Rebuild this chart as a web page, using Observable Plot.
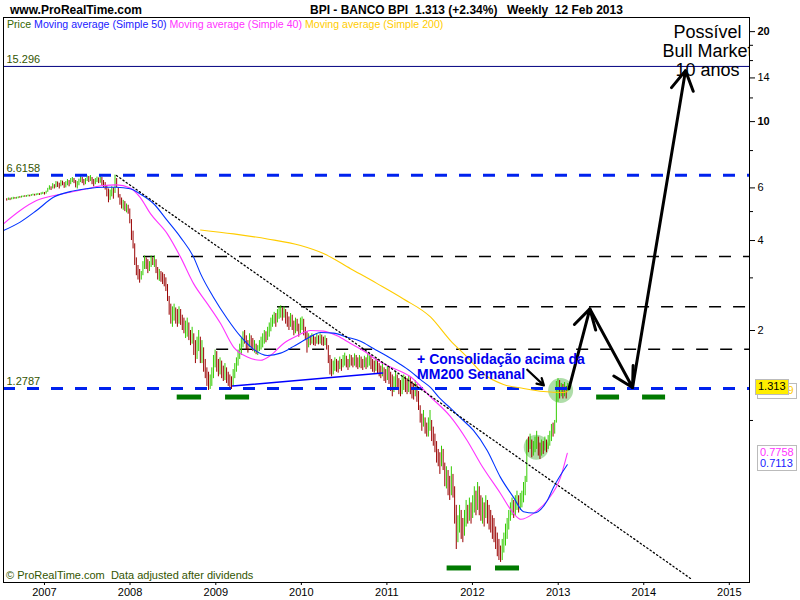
<!DOCTYPE html>
<html><head><meta charset="utf-8">
<script src="https://cdn.jsdelivr.net/npm/d3@7"></script>
<script src="https://cdn.jsdelivr.net/npm/@observablehq/plot@0.6"></script>
<style>
body{margin:0;background:#fff;font-family:"Liberation Sans",Arial,sans-serif;}
#wrap{position:relative;width:800px;height:600px;overflow:hidden}
.ov{position:absolute;white-space:pre;line-height:1}
</style></head><body><div id="wrap"></div>
<script>
// ---- weekly price bars (first week 2006-07-24) ----
const firstWeek = "2006-07-24";
const barHigh = [
5.52,5.55,5.54,5.56,5.58,5.57,5.58,5.60,5.61,5.63,
5.64,5.65,5.66,5.68,5.67,5.70,5.72,5.71,5.73,5.75,
5.74,5.78,5.80,5.79,5.85,5.98,6.10,6.05,6.20,6.15,
6.30,6.28,6.22,6.35,6.32,6.25,6.30,6.40,6.35,6.45,
6.50,6.45,6.35,6.30,6.42,6.55,6.50,6.40,6.45,6.58,
6.55,6.60,6.50,6.40,6.45,6.52,6.48,6.55,6.50,6.35,
6.25,6.10,5.95,5.90,6.05,6.00,6.62,6.45,6.00,5.70,
5.55,5.45,5.40,5.30,5.25,5.10,4.70,4.30,3.90,3.50,
3.30,3.20,3.15,3.40,3.55,3.50,3.45,3.40,3.55,3.50,
3.55,3.45,3.25,3.20,3.15,3.12,3.08,3.00,2.85,2.60,
2.45,2.40,2.45,2.38,2.35,2.40,2.35,2.25,2.20,2.15,
2.20,2.12,2.00,2.05,1.95,1.85,1.90,2.00,1.90,1.85,
1.75,1.60,1.50,1.45,1.42,1.50,1.65,1.72,1.70,1.60,
1.62,1.58,1.52,1.55,1.50,1.45,1.42,1.40,1.48,1.55,
1.62,1.72,1.80,1.88,1.98,2.00,1.92,1.85,1.95,1.92,
1.88,1.85,1.80,1.78,1.85,1.90,1.95,2.00,1.98,2.05,
2.12,2.20,2.25,2.30,2.28,2.35,2.40,2.42,2.38,2.40,
2.35,2.30,2.22,2.28,2.25,2.15,2.20,2.18,2.10,2.20,
2.22,2.18,2.05,1.98,1.95,1.92,1.95,1.93,1.90,1.94,
1.92,1.95,1.93,1.90,1.92,1.88,1.78,1.65,1.60,1.58,
1.62,1.60,1.58,1.63,1.60,1.65,1.68,1.64,1.60,1.66,
1.65,1.62,1.67,1.65,1.62,1.65,1.63,1.60,1.64,1.62,
1.66,1.68,1.65,1.60,1.58,1.62,1.60,1.55,1.52,1.56,
1.50,1.48,1.52,1.50,1.45,1.42,1.40,1.45,1.42,1.38,
1.36,1.40,1.42,1.40,1.38,1.41,1.39,1.35,1.33,1.36,
1.32,1.25,1.12,1.05,1.08,1.02,0.98,1.02,1.08,1.00,
0.95,0.90,0.85,0.80,0.78,0.82,0.80,0.72,0.70,0.68,
0.65,0.70,0.66,0.60,0.52,0.48,0.52,0.50,0.47,0.50,
0.54,0.52,0.55,0.53,0.56,0.60,0.58,0.62,0.60,0.56,
0.55,0.53,0.56,0.54,0.52,0.50,0.48,0.47,0.44,0.42,
0.40,0.38,0.40,0.42,0.45,0.47,0.50,0.53,0.55,0.54,
0.56,0.58,0.56,0.57,0.58,0.62,0.65,0.86,0.88,0.90,
0.86,0.85,0.88,0.92,0.88,0.84,0.86,0.85,0.88,0.86,
0.89,0.92,0.97,0.98,1.00,1.35,1.38,1.36,1.33,1.32,
1.34,1.30,1.33];
const barLow = [
5.42,5.45,5.44,5.47,5.48,5.50,5.50,5.52,5.54,5.55,
5.57,5.58,5.58,5.60,5.60,5.62,5.64,5.63,5.65,5.66,
5.66,5.68,5.70,5.68,5.72,5.80,5.90,5.88,5.95,5.95,
6.00,6.02,5.95,6.05,6.10,5.98,6.00,6.10,6.05,6.15,
6.25,6.20,6.00,5.95,6.10,6.25,6.20,6.10,6.15,6.30,
6.25,6.30,6.15,6.05,6.15,6.25,6.20,6.22,6.10,6.00,
5.90,5.60,5.35,5.45,5.60,5.50,5.75,6.00,5.55,5.25,
5.10,5.05,5.00,4.95,4.90,4.55,4.00,3.75,3.30,3.05,
2.95,2.88,2.95,3.05,3.20,3.20,3.10,3.15,3.25,3.30,
3.25,3.10,2.95,2.92,2.90,2.85,2.80,2.70,2.50,2.25,
2.10,2.05,2.15,2.10,2.05,2.10,2.08,2.00,1.95,1.88,
1.90,1.85,1.78,1.80,1.65,1.55,1.60,1.70,1.55,1.55,
1.45,1.38,1.30,1.26,1.27,1.30,1.38,1.50,1.45,1.40,
1.42,1.38,1.35,1.36,1.33,1.30,1.28,1.27,1.30,1.38,
1.45,1.52,1.60,1.65,1.75,1.80,1.72,1.68,1.75,1.75,
1.70,1.68,1.66,1.65,1.70,1.72,1.75,1.80,1.82,1.85,
1.90,1.98,2.05,2.10,2.05,2.12,2.18,2.20,2.15,2.20,
2.10,2.05,2.00,2.05,2.00,1.92,1.95,1.98,1.90,1.95,
2.00,1.92,1.85,1.68,1.75,1.78,1.80,1.78,1.77,1.80,
1.79,1.80,1.78,1.77,1.78,1.72,1.55,1.42,1.40,1.42,
1.46,1.45,1.44,1.48,1.46,1.50,1.52,1.50,1.47,1.50,
1.52,1.50,1.52,1.50,1.48,1.50,1.49,1.47,1.50,1.48,
1.50,1.52,1.48,1.45,1.44,1.46,1.43,1.40,1.38,1.40,
1.35,1.33,1.36,1.32,1.25,1.20,1.24,1.28,1.26,1.22,
1.20,1.22,1.26,1.24,1.22,1.24,1.22,1.18,1.17,1.20,
1.15,1.08,0.98,0.92,0.95,0.90,0.88,0.88,0.92,0.85,
0.82,0.78,0.72,0.70,0.66,0.70,0.68,0.60,0.59,0.56,
0.54,0.56,0.55,0.45,0.37,0.39,0.42,0.40,0.39,0.41,
0.44,0.45,0.46,0.45,0.47,0.49,0.48,0.50,0.48,0.46,
0.45,0.44,0.47,0.45,0.43,0.42,0.40,0.39,0.37,0.35,
0.34,0.335,0.34,0.36,0.38,0.40,0.43,0.46,0.48,0.47,
0.48,0.50,0.49,0.50,0.51,0.53,0.56,0.62,0.78,0.80,
0.75,0.76,0.78,0.80,0.76,0.74,0.76,0.77,0.79,0.78,
0.80,0.82,0.85,0.88,0.90,0.98,1.15,1.18,1.20,1.18,
1.20,1.18,1.25];
const barUp = [
0,1,0,1,1,0,1,1,0,1, 1,0,1,1,0,1,1,0,1,1, 0,1,1,0,1,1,1,0,1,0,
1,0,0,1,0,0,1,1,0,1, 1,0,0,1,1,1,0,0,1,1, 0,1,0,0,1,1,0,1,0,0,
0,0,0,1,1,0,1,0,0,0, 0,1,0,1,0,0,0,0,0,0, 0,0,1,1,1,0,0,1,1,0,
1,0,0,1,0,0,0,0,0,0, 0,1,1,0,0,1,0,0,0,1, 1,0,0,1,0,0,1,1,0,1,
0,0,0,0,1,1,1,1,0,0, 1,0,0,1,0,0,0,0,1,1, 1,1,1,1,1,0,0,0,1,0,
0,1,0,1,1,1,1,1,0,1, 1,1,1,1,0,1,1,1,0,1, 0,0,0,1,0,0,1,0,0,1,
1,0,0,0,1,0,1,0,0,1, 0,1,0,0,1,0,0,0,0,1, 1,0,0,1,0,1,1,0,0,1,
0,0,1,0,0,1,0,0,1,0, 1,1,0,0,0,1,0,0,0,1, 0,0,1,0,0,0,1,1,0,0,
0,1,1,0,0,1,0,0,0,1, 0,0,0,0,1,0,0,1,1,0, 0,0,0,0,0,1,0,0,1,0,
0,1,0,0,0,1,1,0,0,1, 1,0,1,0,1,1,0,1,0,0, 1,0,1,0,0,0,0,0,0,0,
0,0,1,1,1,1,1,1,1,0, 1,1,0,1,1,1,1,1,0,1, 0,1,1,1,0,0,1,0,1,0,
1,1,1,0,1,1,1,0,1,0, 1,0,1];

// ---- moving averages (decimal year, value) ----
const ma50Year = [2006.521,2006.716,2006.907,2007.105,2007.300,2007.494,2007.689,2007.841,2008.001,2008.118,2008.273,2008.433,2008.589,2008.741,2008.822,2008.974,2009.134,2009.290,2009.442,2009.602,2009.757,2009.909,2010.069,2010.224,2010.376,2010.536,2010.692,2010.843,2011.004,2011.159,2011.276,2011.393,2011.509,2011.626,2011.743,2011.860,2012.012,2012.172,2012.327,2012.479,2012.596,2012.713,2012.873,2012.946,2013.106];
const ma50Value = [4.32,4.61,5.04,5.58,5.83,5.96,6.03,6.03,5.96,5.73,5.32,4.67,4.10,3.52,3.10,2.58,2.19,1.91,1.73,1.65,1.68,1.77,1.88,1.97,1.96,1.90,1.84,1.74,1.64,1.54,1.46,1.37,1.29,1.18,1.10,1.02,0.926,0.794,0.645,0.553,0.495,0.49,0.54,0.598,0.711];
const ma40Year = [2006.521,2006.716,2006.907,2007.105,2007.300,2007.494,2007.689,2007.841,2008.001,2008.118,2008.238,2008.433,2008.589,2008.741,2008.901,2009.056,2009.208,2009.368,2009.523,2009.640,2009.792,2009.952,2010.107,2010.259,2010.419,2010.575,2010.727,2010.887,2011.042,2011.276,2011.509,2011.743,2011.938,2012.093,2012.327,2012.479,2012.565,2012.713,2012.873,2013.028,2013.106];
const ma40Value = [4.55,5.04,5.44,5.65,5.80,5.96,6.11,6.14,6.00,5.58,4.92,4.22,3.52,2.87,2.46,2.11,1.76,1.63,1.59,1.65,1.81,1.92,2.00,1.99,1.92,1.81,1.71,1.59,1.51,1.40,1.20,1.03,0.857,0.718,0.570,0.489,0.467,0.489,0.540,0.646,0.776];
const ma200Year = [2008.822,2009.208,2009.602,2009.991,2010.259,2010.575,2010.887,2011.194,2011.509,2011.743,2011.938,2012.129,2012.362,2012.596,2012.829,2013.063,2013.106];
const ma200Value = [4.34,4.21,4.05,3.85,3.62,3.22,2.87,2.55,2.22,1.85,1.63,1.43,1.32,1.28,1.25,1.24,1.25];

// ---- levels & drawings ----
const topLevel = 15.296;
const blueLevels = [6.6158, 1.2787];
const blackLevels = [3.54, 2.40, 1.73];
const blackLevelStart = [2008.157, 2009.722, 2009.010];
const greenMarkStart = [2008.550, 2009.114, 2013.449, 2013.986, 2011.704, 2012.269];
const greenMarkEnd   = [2008.834, 2009.395, 2013.717, 2014.255, 2011.988, 2012.549];
const greenMarkLevel = [1.198, 1.198, 1.198, 1.198, 0.321, 0.321];
const circleYear = [2012.744, 2013.028];
const circleValue = [0.814, 1.26];
const trendYear = [2007.841, 2014.547];
const trendValue = [6.60, 0.296];
const neckYear = [2009.196, 2010.949];
const neckValue = [1.304, 1.441];
const arrowYear1 = [2013.125, 2013.370, 2013.869];
const arrowVal1  = [1.276, 2.363, 1.289];
const arrowYear2 = [2013.370, 2013.869, 2014.488];
const arrowVal2  = [2.363, 1.289, 14.81];
const noteArrow = {x1: 2012.639, y1: 1.478, x2: 2012.833, y2: 1.31};
const yearLabels = [2007,2008,2009,2010,2011,2012,2013,2014,2015];
const yMajor = [2,4,6,14];
const yBold = [10,20];
const yMinor = [1,3,5,8,12,16,18];
const lastPrice = 1.313, lastMA40 = 0.7758, lastMA50 = 0.7113, lastMA200 = "1.2559";

function yd(y){const yr=Math.floor(y);const a=Date.UTC(yr,0,1),b=Date.UTC(yr+1,0,1);return new Date(a+(y-yr)*(b-a));}
const t0 = new Date(firstWeek+"T00:00:00Z").getTime();
const bars = barHigh.map((h,i)=>({date:new Date(t0+i*7*864e5), high:h, low:barLow[i], up:barUp[i]===1}));
const ma50 = ma50Year.map((y,i)=>({x:yd(y), y:ma50Value[i]}));
const ma40 = ma40Year.map((y,i)=>({x:yd(y), y:ma40Value[i]}));
const ma200 = ma200Year.map((y,i)=>({x:yd(y), y:ma200Value[i]}));
const blackL = blackLevels.map((v,i)=>({y:v, x1:yd(blackLevelStart[i]), x2:yd(2015.236)}));
const greens = greenMarkLevel.map((v,i)=>({y:v, x1:yd(greenMarkStart[i]), x2:yd(greenMarkEnd[i])}));
const circles = circleYear.map((y,i)=>({x:yd(y), y:circleValue[i]}));
const arrows = arrowYear1.map((y,i)=>({x1:yd(y), y1:arrowVal1[i], x2:yd(arrowYear2[i]), y2:arrowVal2[i]}));
const xDomain=[yd(2006.521), yd(2015.236)];
const yDomain=[0.287, 22.3];
const FONT='"Liberation Sans", Arial, sans-serif';

const plot = Plot.plot({
  width:800, height:600, marginTop:17, marginBottom:18, marginLeft:3, marginRight:51,
  x:{type:"utc", domain:xDomain},
  y:{type:"log", domain:yDomain},
  style:{fontFamily:FONT, fontSize:"11px", background:"white", color:"black"},
  marks:[
    Plot.dot(circles,{x:"x",y:"y",r:12.5,fill:"#a6d9a0",fillOpacity:0.9,stroke:"none"}),
    Plot.ruleY([topLevel],{stroke:"#000080",strokeWidth:1}),
    Plot.ruleY(blackL,{y:"y",x1:"x1",x2:"x2",stroke:"black",strokeWidth:1.5,strokeDasharray:"12,12"}),
    Plot.ruleY(greens,{y:"y",x1:"x1",x2:"x2",stroke:"#007a00",strokeWidth:5}),
    Plot.ruleX(bars.filter(d=>d.up),{x:"date",y1:"low",y2:"high",stroke:"#33cc00",strokeWidth:1}),
    Plot.ruleX(bars.filter(d=>!d.up),{x:"date",y1:"low",y2:"high",stroke:"#990000",strokeWidth:1}),
    Plot.ruleY(blueLevels,{stroke:"#0022ee",strokeWidth:3,strokeDasharray:"12,12"}),
    Plot.line(ma200,{x:"x",y:"y",stroke:"#ffcc00",strokeWidth:1.1,curve:"monotone-x"}),
    Plot.line(ma40,{x:"x",y:"y",stroke:"#ff33ff",strokeWidth:1.1,curve:"monotone-x"}),
    Plot.line(ma50,{x:"x",y:"y",stroke:"#0033ff",strokeWidth:1.1,curve:"monotone-x"}),
    Plot.line(trendYear.map((y,i)=>({x:yd(y),y:trendValue[i]})),{x:"x",y:"y",stroke:"black",strokeWidth:1.3,strokeDasharray:"1.3,2.7"}),
    Plot.line(neckYear.map((y,i)=>({x:yd(y),y:neckValue[i]})),{x:"x",y:"y",stroke:"#0000ff",strokeWidth:1.5}),
    Plot.arrow(arrows,{x1:"x1",y1:"y1",x2:"x2",y2:"y2",stroke:"black",strokeWidth:3,headLength:11}),
    Plot.arrow([noteArrow],{x1:d=>yd(d.x1),y1:"y1",x2:d=>yd(d.x2),y2:"y2",stroke:"black",strokeWidth:2.2,headLength:9}),
    Plot.text([topLevel, ...blueLevels],{x:()=>xDomain[0],y:d=>d,text:d=>String(d),dx:3,dy:-7,textAnchor:"start",fill:"#335500",fontSize:11}),
    Plot.text(["+ Consolidação acima da\nMM200 Semanal"],{x:()=>yd(2011.353),y:()=>1.682,text:d=>d,textAnchor:"start",lineAnchor:"top",fontSize:14,fontWeight:"bold",lineHeight:1.07,fill:"#0000ee"}),
    Plot.text(["Possível\nBull Market\n10 anos"],{x:()=>yd(2014.745),y:()=>21.1,text:d=>d,textAnchor:"middle",lineAnchor:"top",fontSize:18,lineHeight:1.056,fill:"black",clip:true}),
    Plot.frame({stroke:"black",strokeWidth:1}),
    Plot.axisY(yMajor,{anchor:"right",tickSize:5,tickPadding:3,fontSize:11,label:null,tickFormat:d=>String(d)}),
    Plot.axisY(yBold,{anchor:"right",tickSize:5,tickPadding:3,fontSize:11,fontWeight:"bold",label:null,tickFormat:d=>String(d)}),
    Plot.axisY(yMinor,{anchor:"right",tickSize:3,label:null,tickFormat:()=>""}),
    Plot.axisX(yearLabels.map(y=>new Date(Date.UTC(y,0,1))),{anchor:"bottom",tickSize:3,tickPadding:3,fontSize:11,label:null,tickFormat:d=>String(d.getUTCFullYear())})
  ]
});
const wrap=document.getElementById("wrap");
wrap.appendChild(plot);

const yPix = d3.scaleLog().domain(yDomain).range([582,17]);
function ov(html,left,top,style){const d=document.createElement("div");d.className="ov";d.innerHTML=html;d.style.left=left+"px";d.style.top=top+"px";Object.assign(d.style,style||{});wrap.appendChild(d);return d;}
ov("www.ProRealTime.com",10,4,{fontSize:"12px",fontWeight:"bold"});
ov("BPI - BANCO BPI",310,4,{fontSize:"12px",fontWeight:"bold"});
ov("1.313 (+2.34%)",415,4,{fontSize:"12px",fontWeight:"bold"});
ov("Weekly  12 Feb 2013",507,4,{fontSize:"12px",fontWeight:"bold"});
ov('<span style="color:#336600">Price</span> <span style="color:#1a1aff">Moving average (Simple 50)</span> <span style="color:#ff33ff">Moving average (Simple 40)</span> <span style="color:#ffcc00">Moving average (Simple 200)</span>',7,19,{fontSize:"10.6px"});
ov("© ProRealTime.com  Data adjusted after dividends",6,570,{fontSize:"11px",color:"#335500"});
// right-side value labels
const yl = yPix(lastPrice);
ov(lastMA200,757,yl-2,{fontSize:"11px",color:"#ffcc00",border:"1px solid #bbb",background:"#fff",padding:"1px 2px",height:"12px"});
ov(String(lastPrice),755,yl-6,{fontSize:"11px",color:"#000",border:"1px solid #bbb",background:"#ffee00",padding:"1px 2px",height:"12px"});
const ym = yPix(lastMA40);
ov('<span style="color:#ff33ff">'+lastMA40+'</span><br><span style="color:#1a1aff">'+lastMA50+'</span>',757,ym-8,{fontSize:"11px",border:"1px solid #bbb",background:"#fff",padding:"1px 2px",lineHeight:"11px"});
</script></body></html>
